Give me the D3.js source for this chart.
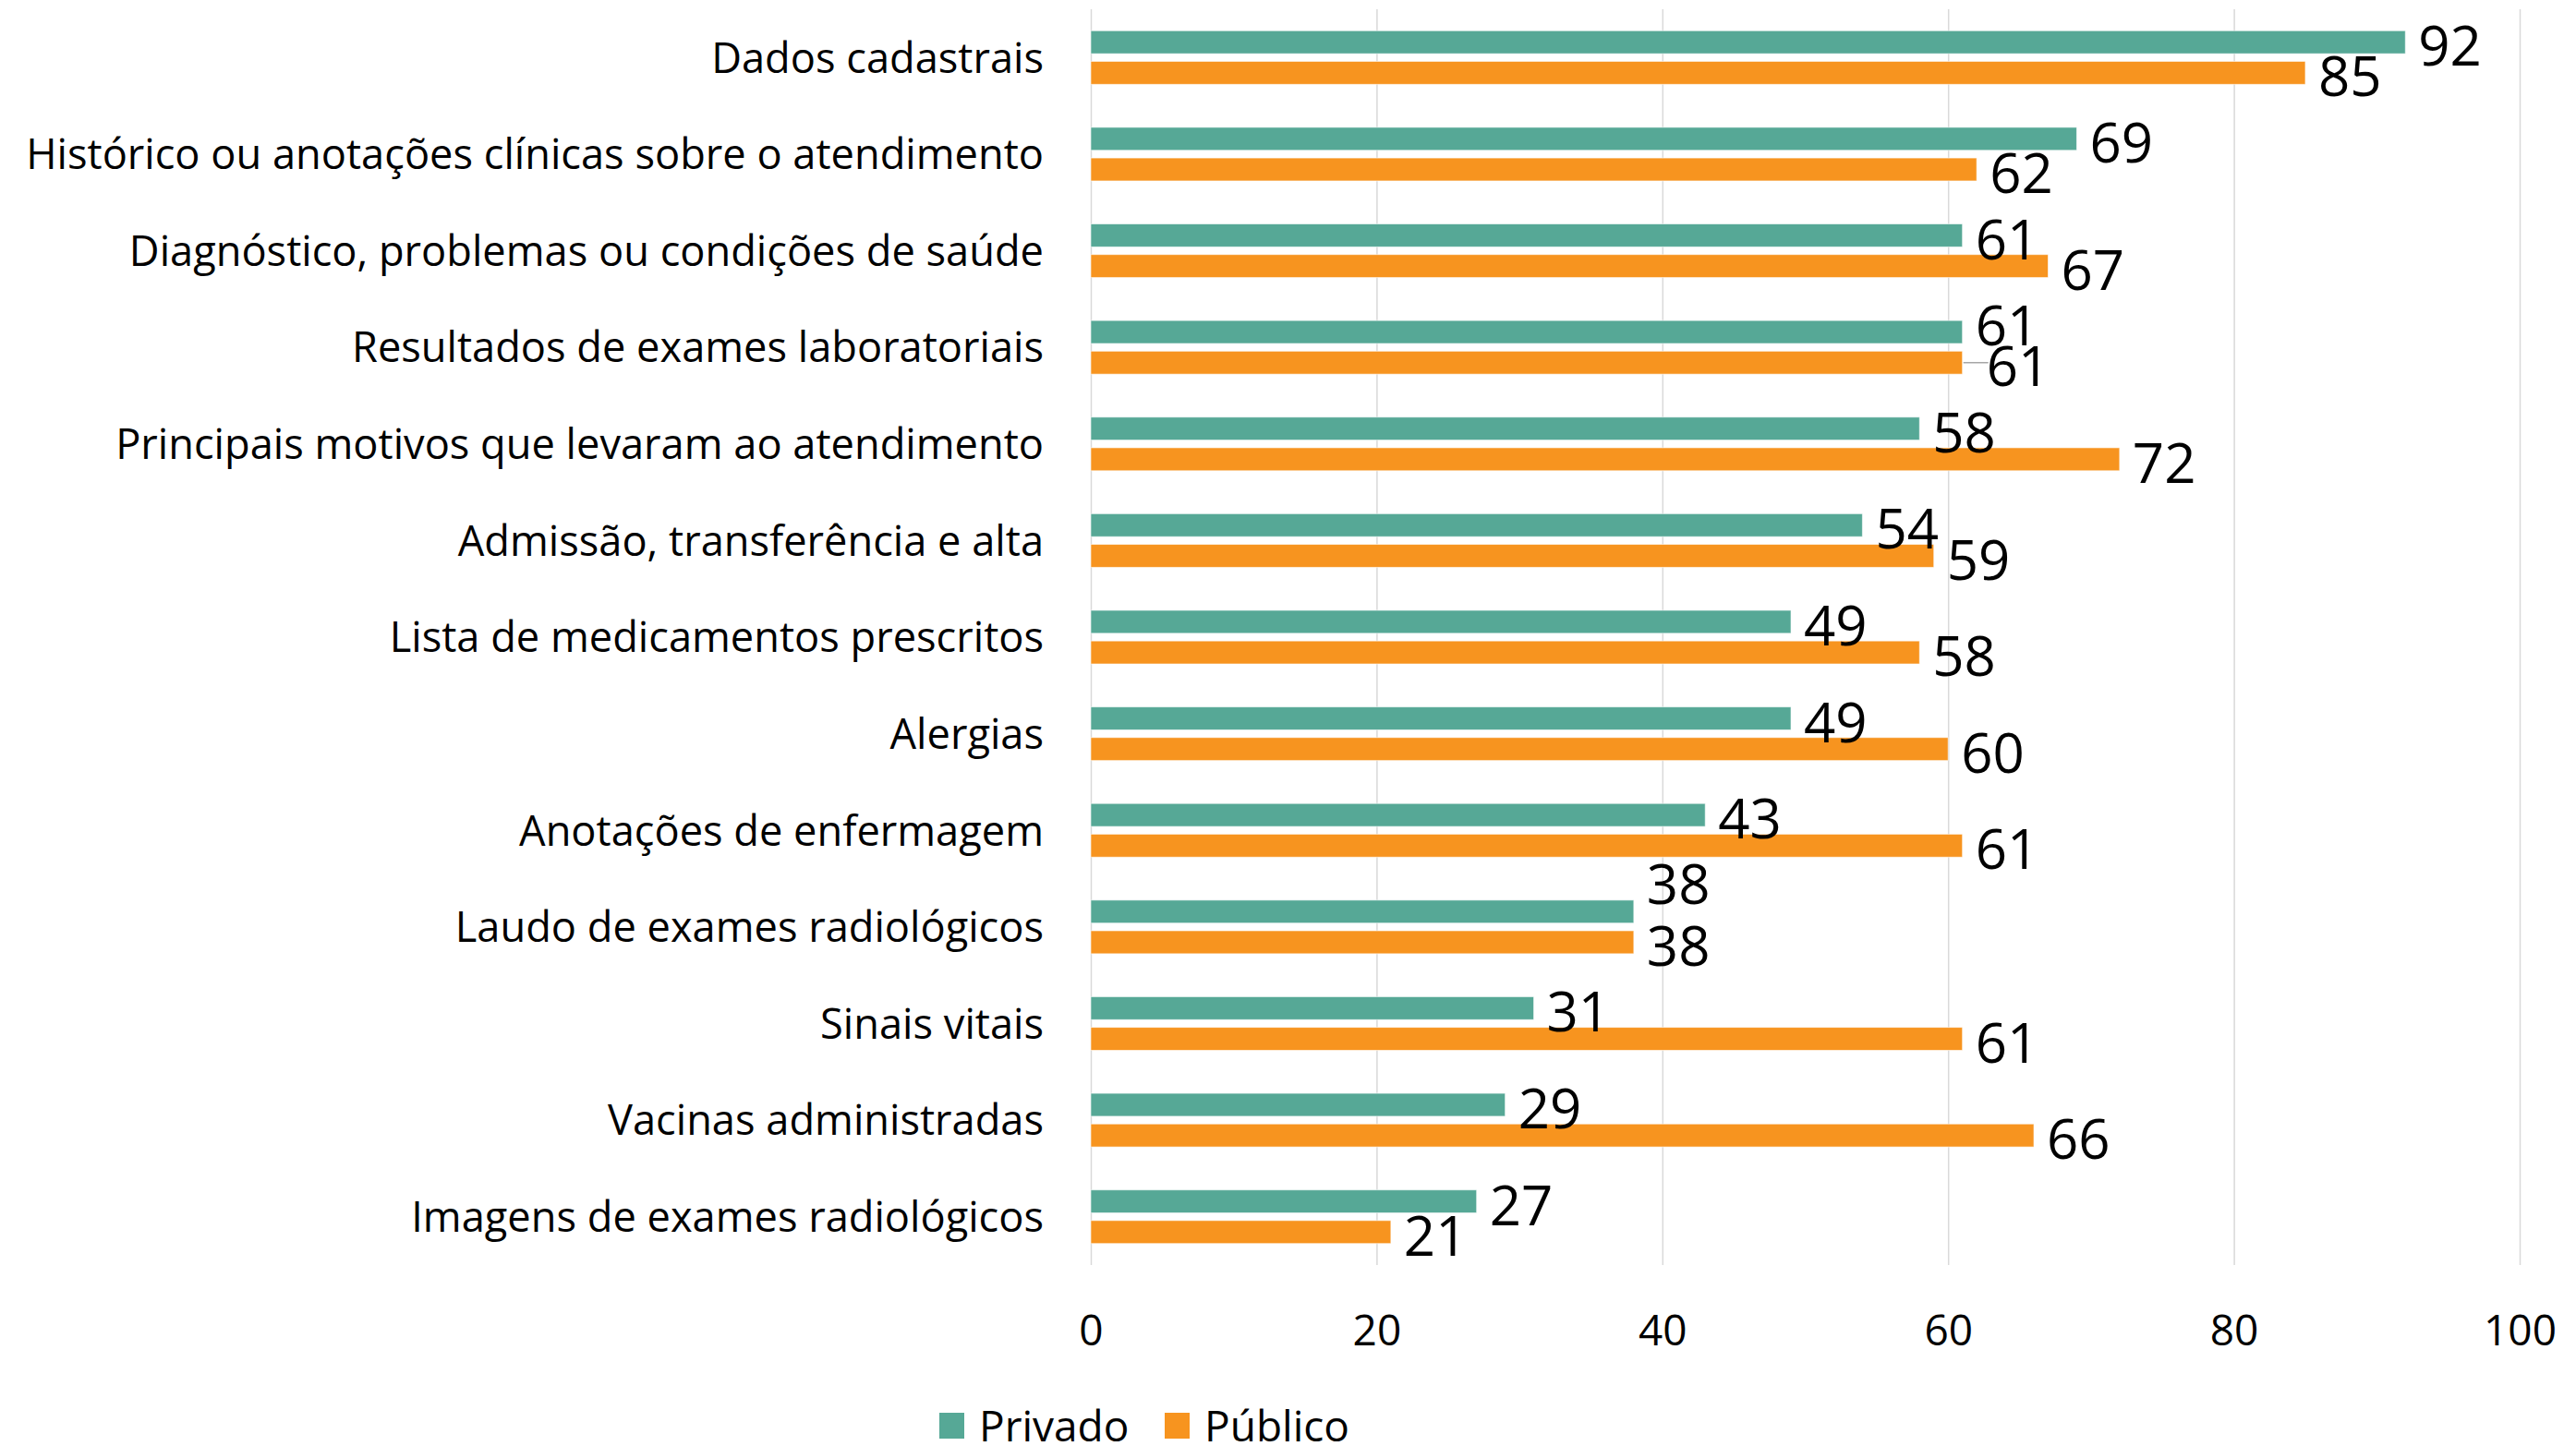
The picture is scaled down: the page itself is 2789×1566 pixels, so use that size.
<!DOCTYPE html>
<html><head><meta charset="utf-8">
<script src="https://cdn.jsdelivr.net/npm/d3@7"></script>
<style>
html,body{margin:0;padding:0;background:#fff;}
svg{display:block;}
text{font-family:"Open Sans","Noto Sans",sans-serif;fill:#000;}
</style></head>
<body>
<svg id="chart" width="2789" height="1566"></svg>
<script>
const categories = [
  "Dados cadastrais",
  "Histórico ou anotações clínicas sobre o atendimento",
  "Diagnóstico, problemas ou condições de saúde",
  "Resultados de exames laboratoriais",
  "Principais motivos que levaram ao atendimento",
  "Admissão, transferência e alta",
  "Lista de medicamentos prescritos",
  "Alergias",
  "Anotações de enfermagem",
  "Laudo de exames radiológicos",
  "Sinais vitais",
  "Vacinas administradas",
  "Imagens de exames radiológicos"
];
const seriesNames = ["Privado", "Público"];
const privado = [92, 69, 61, 61, 58, 54, 49, 49, 43, 38, 31, 29, 27];
const publico = [85, 62, 67, 61, 72, 59, 58, 60, 61, 38, 61, 66, 21];
const xTicks = [0, 20, 40, 60, 80, 100];
const colors = {"Privado": "#56A896", "Público": "#F7941F"};

// manual label nudges (style only), keyed by category|series
const labelNudge = {
  "Resultados de exames laboratoriais|Privado": {dx: 0, dy: -11},
  "Resultados de exames laboratoriais|Público": {dx: 12, dy: 0, leader: true},
  "Laudo de exames radiológicos|Privado": {dx: 0, dy: -34}
};

const svg = d3.select("#chart");
const plotLeft = 1181, plotRight = 2728, plotTop = 10, plotBottom = 1370;

const x = d3.scaleLinear().domain([0, 100]).range([plotLeft, plotRight]);
const y = d3.scaleBand().domain(categories).range([plotTop, plotBottom]).paddingInner(0.445).paddingOuter(0.2225);
const ys = d3.scaleBand().domain(seriesNames).range([0, y.bandwidth()]).paddingInner(0.25).paddingOuter(0);

const rows = categories.map((c, i) => ({cat: c, values: [
  {series: "Privado", value: privado[i]},
  {series: "Público", value: publico[i]}
]}));

// gridlines via axis
const gridAxis = d3.axisBottom(x).tickValues(xTicks).tickSize(-(plotBottom - plotTop)).tickFormat("");
const g = svg.append("g").attr("transform", `translate(0,${plotBottom})`).call(gridAxis);
g.select(".domain").remove();
g.selectAll(".tick line").attr("stroke", "#d9d9d9").attr("stroke-width", 1.5);

// tick labels axis
const labAxis = d3.axisBottom(x).tickValues(xTicks).tickSize(0).tickPadding(0).tickFormat(d3.format("d"));
const ga = svg.append("g").attr("transform", `translate(0,1440)`).call(labAxis);
ga.select(".domain").remove();
ga.selectAll(".tick text").attr("font-size", 46).attr("dy", "0.36em").attr("fill", "#000")
  .style("font-family", '"Open Sans","Noto Sans",sans-serif');

// bars
const grp = svg.append("g").selectAll("g").data(rows).join("g")
  .attr("transform", d => `translate(0,${y(d.cat)})`);
grp.selectAll("rect").data(d => d.values.map(v => ({...v, cat: d.cat}))).join("rect")
  .attr("x", x(0))
  .attr("y", d => ys(d.series))
  .attr("width", d => x(d.value) - x(0))
  .attr("height", ys.bandwidth())
  .attr("fill", d => colors[d.series])
  .attr("stroke", "#ffffff").attr("stroke-opacity", 0.6).attr("stroke-width", 1);

// value labels
grp.each(function(d) {
  const gg = d3.select(this);
  d.values.forEach(v => {
    const n = labelNudge[d.cat + "|" + v.series] || {dx: 0, dy: 0};
    const cy = ys(v.series) + ys.bandwidth() / 2 + 4 + n.dy;
    const lx = x(v.value) + 14 + n.dx;
    if (n.leader) {
      gg.append("line").attr("x1", x(v.value) + 1).attr("x2", lx + 2)
        .attr("y1", ys(v.series) + ys.bandwidth() / 2).attr("y2", ys(v.series) + ys.bandwidth() / 2)
        .attr("stroke", "#a6a6a6").attr("stroke-width", 1.5);
    }
    gg.append("text").attr("x", lx).attr("y", cy)
      .attr("dy", "0.36em").attr("font-size", 60).text(v.value);
  });
});

// category labels
const catG = svg.append("g");
const catTexts = catG.selectAll("text").data(categories).join("text")
  .attr("x", 1130)
  .attr("y", d => y(d) + y.bandwidth() / 2)
  .attr("dy", "0.36em")
  .attr("text-anchor", "end")
  .attr("font-size", 46)
  .text(d => d);
let maxW = 0;
catTexts.each(function() { maxW = Math.max(maxW, this.getComputedTextLength()); });
const fs = Math.min(46, 46 * 1102 / maxW);
catTexts.attr("font-size", fs);

// legend
const legend = svg.append("g");
const legendItems = [{name: "Privado", sx: 1017, tx: 1060}, {name: "Público", sx: 1261, tx: 1304}];
legend.selectAll("rect").data(legendItems).join("rect")
  .attr("x", d => d.sx).attr("y", 1530).attr("width", 27).attr("height", 28)
  .attr("fill", d => colors[d.name]);
legend.selectAll("text").data(legendItems).join("text")
  .attr("x", d => d.tx).attr("y", 1561).attr("font-size", 46).text(d => d.name);
</script>
</body></html>
